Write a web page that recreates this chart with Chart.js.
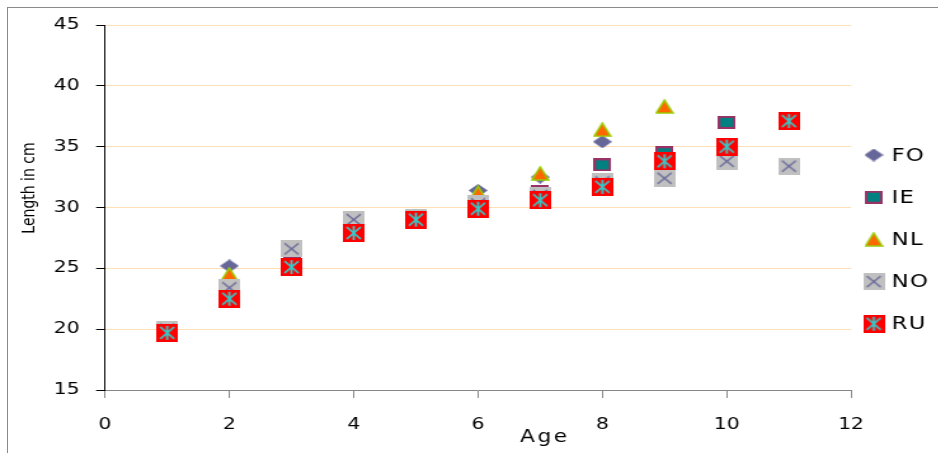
<!DOCTYPE html>
<html>
<head>
<meta charset="utf-8">
<script src="https://cdn.jsdelivr.net/npm/chart.js@4/dist/chart.umd.min.js"></script>
<style>
  html, body { margin: 0; padding: 0; background: #fff; overflow: hidden; }
  #frame { position: absolute; left: 7px; top: 7px; width: 1000px; height: 1000px; border: 1px solid #8a8a8a; }
  /* the plot is laid out narrow and widened horizontally */
  #wrap { position: absolute; left: 0; top: 0; width: 739px; height: 453px; transform: scaleX(1.27); transform-origin: 0 0; }
</style>
</head>
<body>
<div id="frame"></div>
<div id="wrap"><canvas id="c"></canvas></div>
<script>
// Length at age, by country
const seriesNames = ['FO', 'IE', 'NL', 'NO', 'RU'];

const foAges = [2, 6, 7, 8];
const foLength = [25.2, 31.4, 32.5, 35.4];

const ieAges = [3, 7, 8, 9, 10];
const ieLength = [25.4, 31.3, 33.5, 34.5, 37.0];

const nlAges = [2, 6, 7, 8, 9];
const nlLength = [24.5, 31.2, 32.8, 36.4, 38.3];

const noAges = [1, 2, 3, 4, 5, 6, 7, 8, 9, 10, 11];
const noLength = [20.0, 23.4, 26.6, 29.0, 29.2, 30.3, 31.0, 32.1, 32.4, 33.8, 33.4];

const ruAges = [1, 2, 3, 4, 5, 6, 7, 8, 9, 10, 11];
const ruLength = [19.7, 22.5, 25.1, 27.9, 29.0, 29.9, 30.6, 31.7, 33.8, 35.0, 37.1];

const xTicks = [0, 2, 4, 6, 8, 10, 12];
const yTicks = [15, 20, 25, 30, 35, 40, 45];
const xTitle = 'Age';
const yTitle = 'Length in cm';

const FONT = '"DejaVu Sans", Verdana, sans-serif';

// marker images
function marker(w, h, paint) {
  const c = document.createElement('canvas');
  c.width = w; c.height = h;
  paint(c.getContext('2d'), w, h);
  return c;
}
const diamond = marker(15, 13, (g, w, h) => {
  g.fillStyle = '#666699';
  g.beginPath(); g.moveTo(w / 2, 0); g.lineTo(w, h / 2); g.lineTo(w / 2, h); g.lineTo(0, h / 2); g.closePath(); g.fill();
});
const tealBox = marker(14, 13, (g, w, h) => {
  g.fillStyle = '#008080'; g.fillRect(0, 0, w, h);
  g.strokeStyle = '#993366'; g.lineWidth = 2; g.strokeRect(1, 1, w - 2, h - 2);
});
const triangle = marker(15, 15, (g, w, h) => {
  g.fillStyle = '#FF6600'; g.strokeStyle = '#99CC00'; g.lineWidth = 1.6;
  g.beginPath(); g.moveTo(w / 2, 1); g.lineTo(w - 1, h - 1); g.lineTo(1, h - 1); g.closePath(); g.fill(); g.stroke();
});
const crossBox = marker(17, 17, (g, w, h) => {
  g.fillStyle = '#C0C0C0'; g.fillRect(0, 0, w, h);
  g.strokeStyle = '#666699'; g.lineWidth = 1.4;
  g.beginPath(); g.moveTo(3, 3); g.lineTo(w - 3, h - 3); g.moveTo(w - 3, 3); g.lineTo(3, h - 3); g.stroke();
});
const starBox = marker(17, 18, (g, w, h) => {
  g.fillStyle = '#FF0000'; g.fillRect(0, 0, w, h);
  g.strokeStyle = '#33CCCC'; g.lineWidth = 1.8;
  g.beginPath();
  g.moveTo(w / 2, 2); g.lineTo(w / 2, h - 2);
  g.moveTo(3, 3); g.lineTo(w - 3, h - 3);
  g.moveTo(w - 3, 3); g.lineTo(3, h - 3);
  g.stroke();
});

const pts = (xs, ys) => xs.map((x, i) => ({ x: x, y: ys[i] }));

const datasets = [
  { label: seriesNames[0], data: pts(foAges, foLength), pointStyle: diamond, order: 5 },
  { label: seriesNames[1], data: pts(ieAges, ieLength), pointStyle: tealBox, order: 4 },
  { label: seriesNames[2], data: pts(nlAges, nlLength), pointStyle: triangle, order: 3 },
  { label: seriesNames[3], data: pts(noAges, noLength), pointStyle: crossBox, order: 2 },
  { label: seriesNames[4], data: pts(ruAges, ruLength), pointStyle: starBox, order: 1 }
].map(d => Object.assign(d, { pointRadius: 8, pointHoverRadius: 8, showLine: false, clip: false }));

// axis titles and the legend column on the right
const decorations = {
  id: 'decorations',
  afterDraw(chart) {
    const ctx = chart.ctx;
    ctx.save();
    ctx.fillStyle = '#000';
    ctx.textBaseline = 'middle';

    ctx.save();
    ctx.translate(23.6, 188);
    ctx.rotate(-Math.PI / 2);
    ctx.font = '14px ' + FONT;
    ctx.textAlign = 'center';
    ctx.fillText(yTitle, 0, 0);
    ctx.restore();

    ctx.font = '17px ' + FONT;
    ctx.textAlign = 'center';
    ctx.letterSpacing = '2px';
    ctx.fillText(xTitle, 429, 438);
    ctx.letterSpacing = '1px';

    ctx.font = '18px ' + FONT;
    ctx.textAlign = 'left';
    chart.data.datasets.forEach((ds, i) => {
      const y = 155 + i * 42.2;
      const img = ds.pointStyle;
      ctx.drawImage(img, 688 - img.width / 2, y - img.height / 2);
      ctx.fillText(ds.label, 702, y + 1);
    });
    ctx.restore();
  }
};

new Chart(document.getElementById('c'), {
  type: 'scatter',
  data: { datasets: datasets },
  plugins: [decorations],
  options: {
    responsive: true,
    maintainAspectRatio: false,
    animation: false,
    events: [],
    layout: { padding: { left: 0, right: 68.9, top: 25, bottom: 13 } },
    plugins: { legend: { display: false }, tooltip: { enabled: false } },
    scales: {
      x: {
        type: 'linear', min: xTicks[0], max: xTicks[xTicks.length - 1],
        afterBuildTicks: s => { s.ticks = xTicks.map(v => ({ value: v })); },
        afterFit: s => { s.height = 50; },
        grid: { drawOnChartArea: false, drawTicks: true, tickLength: 8, tickColor: '#868686', color: '#868686' },
        border: { display: true, color: '#868686', width: 1 },
        ticks: { color: '#000', padding: 17, font: { family: FONT, size: 16 }, maxRotation: 0 }
      },
      y: {
        type: 'linear', min: yTicks[0], max: yTicks[yTicks.length - 1],
        afterBuildTicks: s => { s.ticks = yTicks.map(v => ({ value: v })); },
        afterFit: s => { s.width = 82.7; },
        grid: {
          drawTicks: true, tickLength: 7, tickColor: '#000',
          color: c => (c.tick && c.tick.value === yTicks[0]) ? 'rgba(0,0,0,0)' : '#FFDFB6'
        },
        border: { display: true, color: '#000', width: 1 },
        ticks: { color: '#000', padding: 13, font: { family: FONT, size: 16 } }
      }
    }
  }
});
</script>
</body>
</html>
